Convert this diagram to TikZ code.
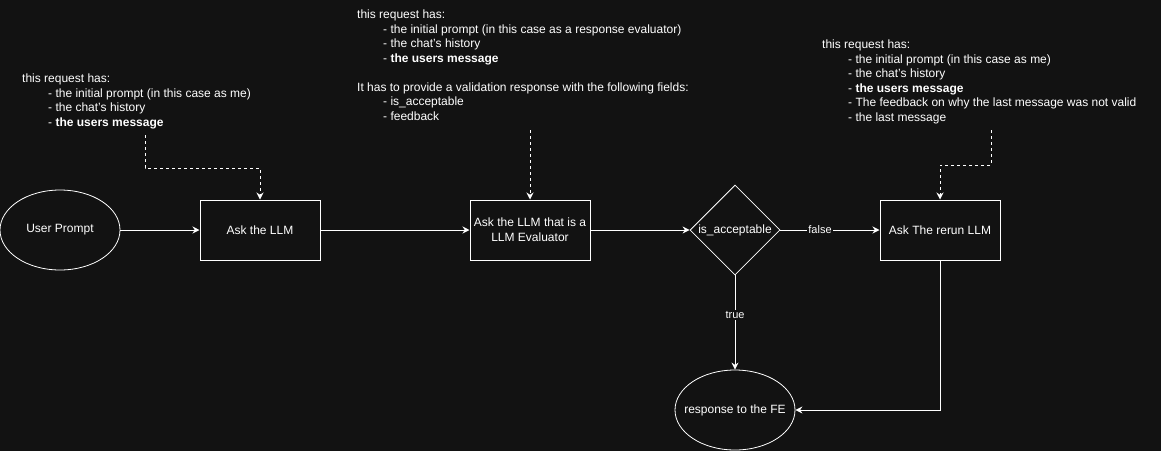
\documentclass[tikz,border=0pt]{standalone}
\usepackage{fontspec}
\setmainfont{Liberation Sans}
\usetikzlibrary{shapes.geometric,arrows.meta}
\definecolor{bgdark}{HTML}{121212}
\tikzset{
	procbox/.style={draw=white, line width=1pt, fill=bgdark, text=white, minimum width=120pt, minimum height=60pt, inner sep=0pt, align=center, font=\fontsize{12}{15}\selectfont},
	termnode/.style={ellipse, draw=white, line width=0.8pt, text=white, minimum width=120pt, minimum height=80pt, inner sep=0pt, font=\fontsize{12}{15}\selectfont},
	decision/.style={diamond, aspect=1, draw=white, line width=0.8pt, text=white, minimum size=90pt, inner sep=0pt, font=\fontsize{12}{15}\selectfont},
	flow/.style={draw=white, line width=1pt, -{Stealth[length=7pt,width=7pt]}},
	dashlink/.style={flow, dash pattern=on 3pt off 3pt},
	notes/.style={text=white, align=left, inner sep=0pt, anchor=north west, font=\fontsize{12}{14.5}\selectfont},
	edgelab/.style={fill=bgdark, text=white, inner sep=1pt, font=\fontsize{11}{13}\selectfont}
}
\begin{document}
\begin{tikzpicture}[x=1pt, y=-1pt]
			\fill[bgdark] (0,0) rectangle (1161,451);
			\useasboundingbox (0,0) rectangle (1161,451);
			\node[termnode] (user) at (60,230) {\makebox[0pt]{User Prompt}};
			\node[procbox] (ask) at (260,230) {Ask the LLM};
			\node[procbox] (eval) at (530,230) {Ask the LLM that is a\\LLM Evaluator};
			\node[decision] (ok) at (735,230) {is\_acceptable};
			\node[procbox] (rerun) at (940,230) {Ask The rerun LLM};
			\node[termnode] (resp) at (735,410) {\makebox[0pt]{response to the FE}};
			\node[notes] (note1) at (22,74) {this request has:\\
				\hspace*{26pt}- the initial prompt (in this case as me)\\
				\hspace*{26pt}- the chat's history\\
				\hspace*{26pt}- \textbf{the users message}};
			\node[notes] (note2) at (357,10) {this request has:\\
				\hspace*{26pt}- the initial prompt (in this case as a response evaluator)\\
				\hspace*{26pt}- the chat's history\\
				\hspace*{26pt}- \textbf{the users message}\\[14.5pt]
				It has to provide a validation response with the following fields:\\
				\hspace*{26pt}- is\_acceptable\\
				\hspace*{26pt}- feedback};
			\node[notes] (note3) at (822,40) {this request has:\\
				\hspace*{26pt}- the initial prompt (in this case as me)\\
				\hspace*{26pt}- the chat's history\\
				\hspace*{26pt}- \textbf{the users message}\\
				\hspace*{26pt}- The feedback on why the last message was not valid\\
				\hspace*{26pt}- the last message};
			\coordinate (n1) at (145,135);
			\coordinate (k1) at (260,168);
			\coordinate (n2) at (530,130);
			\coordinate (n3) at (991,130);
			\coordinate (k3) at (940,165);
			\draw[flow] (user) -- (ask);
			\draw[flow] (ask) -- (eval);
			\draw[flow] (eval) -- (ok);
			\draw[flow] (ok) -- node[edgelab, pos=0.4] {false} (rerun);
			\draw[flow] (ok) -- node[edgelab, pos=0.42] {true} (resp);
			\draw[flow] (rerun) |- (resp);
			\draw[dashlink] (n1) |- (k1) -- (ask);
			\draw[dashlink] (n2) -- (eval);
			\draw[dashlink] (n3) |- (k3) -- (rerun);
		\end{tikzpicture}
\end{document}
